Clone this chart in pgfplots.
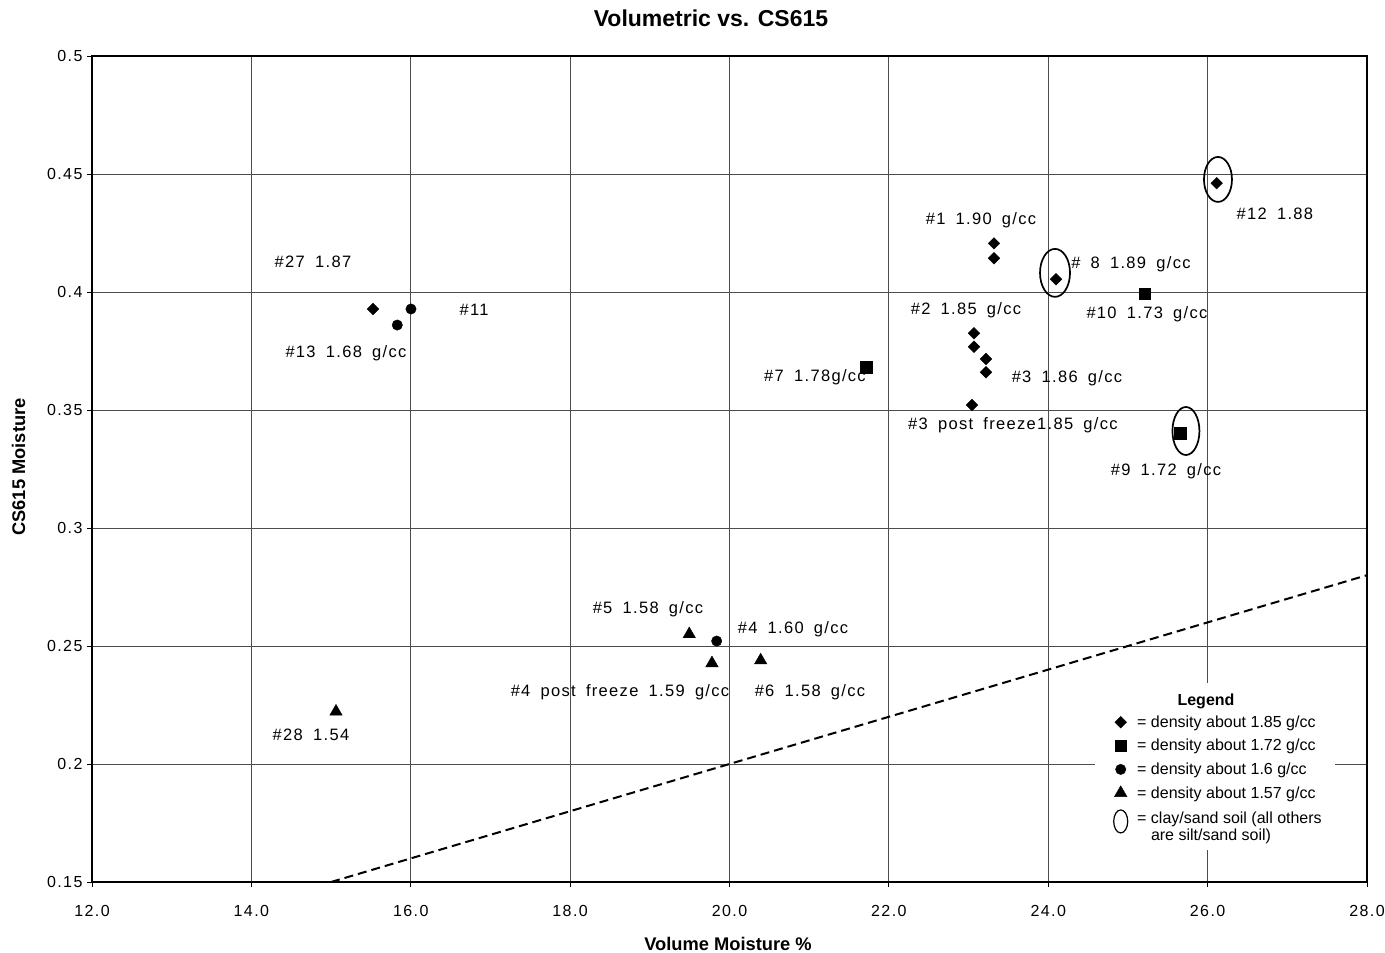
\documentclass[border=0pt]{standalone}
\usepackage{fontspec}
\setmainfont{Liberation Sans}
\newfontfamily\tickfont[LetterSpace=9]{Liberation Sans}
\newfontfamily\labfont[LetterSpace=8]{Liberation Sans}
\usepackage{pgfplots}
\pgfplotsset{compat=1.18}
\pgfdeclareplotmark{legellipse}{\pgfpathellipse{\pgfpointorigin}{\pgfqpoint{7bp}{0pt}}{\pgfqpoint{0pt}{11.5bp}}\pgfusepathqstroke}
\newcommand\g{\hspace{0.62em}}
\tikzset{lab/.style={font=\fontsize{16.5bp}{19bp}\labfont, anchor=base, yshift=-5.8bp, inner sep=0pt}}
\begin{document}
\begin{tikzpicture}
\useasboundingbox (0,0) rectangle (1385bp,953bp);
\begin{axis}[
  at={(92bp,71bp)}, anchor=south west,
  width=1275bp, height=826bp, scale only axis,
  xmin=12, xmax=28, ymin=0.15, ymax=0.5,
  xtick={12,14,16,18,20,22,24,26,28},
  ytick={0.15,0.2,0.25,0.3,0.35,0.4,0.45,0.5},
  xticklabels={12.0,14.0,16.0,18.0,20.0,22.0,24.0,26.0,28.0},
  yticklabels={0.15,0.2,0.25,0.3,0.35,0.4,0.45,0.5},
  tick align=outside, major tick length=5bp,
  xtick pos=left, ytick pos=left,
  grid=major, major grid style={black!70, line width=0.8bp},
  axis line style={line width=1.3bp},
  tick style={black, line width=0.8bp},
  ticklabel style={font=\fontsize{16bp}{19bp}\tickfont},
  xticklabel style={yshift=-15bp},
  yticklabel style={xshift=-1bp},
  clip=false,
  legend style={at={(axis cs:24.794,0.2212)}, anchor=north west, draw=none, fill=none,
    font=\fontsize{16bp}{19bp}\selectfont, row sep=7.5bp, inner sep=0pt,
    nodes={inner sep=1.5bp}},
  legend cell align=left,
  legend image code/.code={\path[draw=none,fill=none] (0bp,-1bp) rectangle (24bp,1bp); \draw[#1] plot coordinates {(9bp,0bp)};},
]
% 1:1 line
\addplot[forget plot, black, line width=2bp, dash pattern=on 9bp off 5bp] coordinates {(15,0.15) (28,0.28)};
% diamonds (~1.85)
\addplot[only marks, mark=square*, mark size=4.1bp, mark options={rotate=45, black}] coordinates {
(15.526,0.3928) (23.319,0.4206) (23.319,0.4143) (24.097,0.4054) (26.114,0.4461)
(23.068,0.3825) (23.068,0.3768) (23.219,0.3716) (23.219,0.3660) (23.043,0.3521)};
\addlegendentry{= density about 1.85 g/cc}
% squares (~1.72)
\addplot[only marks, mark=square*, mark size=5.8bp, mark options={black}] coordinates {
(21.713,0.3681) (25.210,0.3992) (25.653,0.3401)};
\addlegendentry{= density about 1.72 g/cc}
% circles (~1.6)
\addplot[only marks, mark=*, mark size=5.2bp, mark options={black}] coordinates {
(15.831,0.3860) (16.003,0.3928) (19.839,0.2521)};
\addlegendentry{= density about 1.6 g/cc}
% triangles (~1.57)
\addplot[only marks, mark=triangle*, mark size=7.2bp, mark options={black}] coordinates {
(19.495,0.2550) (19.780,0.2427) (20.391,0.2439) (15.062,0.2222)};
\addlegendentry{= density about 1.57 g/cc}
\addlegendimage{only marks, mark=legellipse, mark options={black, line width=1.2bp, yshift=-4bp}}
\addlegendentry{= \begin{tabular}[t]{@{}l@{}}clay/sand soil (all others\\[-2bp]are silt/sand soil)\end{tabular}}
% clay/sand ellipses
\draw[line width=1.7bp] (axis cs:24.085,0.4081) ellipse [x radius=15bp, y radius=24bp];
\draw[line width=1.7bp] (axis cs:26.130,0.4477) ellipse [x radius=14bp, y radius=22.5bp];
\draw[line width=1.7bp] (axis cs:25.728,0.3411) ellipse [x radius=13.5bp, y radius=24bp];
% legend background
\fill[white] (axis cs:24.586,0.1636) rectangle (axis cs:27.598,0.2343);
% point labels
\node[lab] at (axis cs:14.773,0.4127) {\#27\g1.87};
\node[lab] at (axis cs:16.794,0.3924) {\#11};
\node[lab] at (axis cs:15.187,0.3746) {\#13\g1.68\g g/cc};
\node[lab] at (axis cs:23.156,0.4309) {\#1\g1.90\g g/cc};
\node[lab] at (axis cs:25.038,0.4123) {\#\g8\g1.89\g g/cc};
\node[lab] at (axis cs:26.845,0.4331) {\#12\g1.88};
\node[lab] at (axis cs:22.968,0.3928) {\#2\g1.85\g g/cc};
\node[lab] at (axis cs:25.239,0.3911) {\#10\g1.73\g g/cc};
\node[lab] at (axis cs:21.073,0.3644) {\#7\g1.78g/cc};
\node[lab] at (axis cs:24.235,0.3640) {\#3\g1.86\g g/cc};
\node[lab] at (axis cs:23.557,0.3441) {\#3\g post\g freeze1.85\g g/cc};
\node[lab] at (axis cs:25.478,0.3246) {\#9\g1.72\g g/cc};
\node[lab] at (axis cs:18.977,0.2661) {\#5\g1.58\g g/cc};
\node[lab] at (axis cs:20.797,0.2576) {\#4\g1.60\g g/cc};
\node[lab] at (axis cs:18.626,0.2309) {\#4\g post\g freeze\g1.59\g g/cc};
\node[lab] at (axis cs:21.010,0.2309) {\#6\g1.58\g g/cc};
\node[lab] at (axis cs:14.748,0.2123) {\#28\g1.54};
\end{axis}
\node[font=\bfseries\fontsize{23bp}{27bp}\selectfont, anchor=base] at (711bp,926bp) {Volumetric vs. CS615};
\node[font=\bfseries\fontsize{18.3bp}{22bp}\selectfont, anchor=base] at (728bp,2.5bp) {Volume Moisture \%};
\node[font=\bfseries\fontsize{18.3bp}{22bp}\selectfont, anchor=base, rotate=90] at (25bp,486bp) {CS615 Moisture};
\node[font=\bfseries\fontsize{16bp}{19bp}\selectfont, anchor=base] at (1206bp,247bp) {Legend};
\end{tikzpicture}
\end{document}
